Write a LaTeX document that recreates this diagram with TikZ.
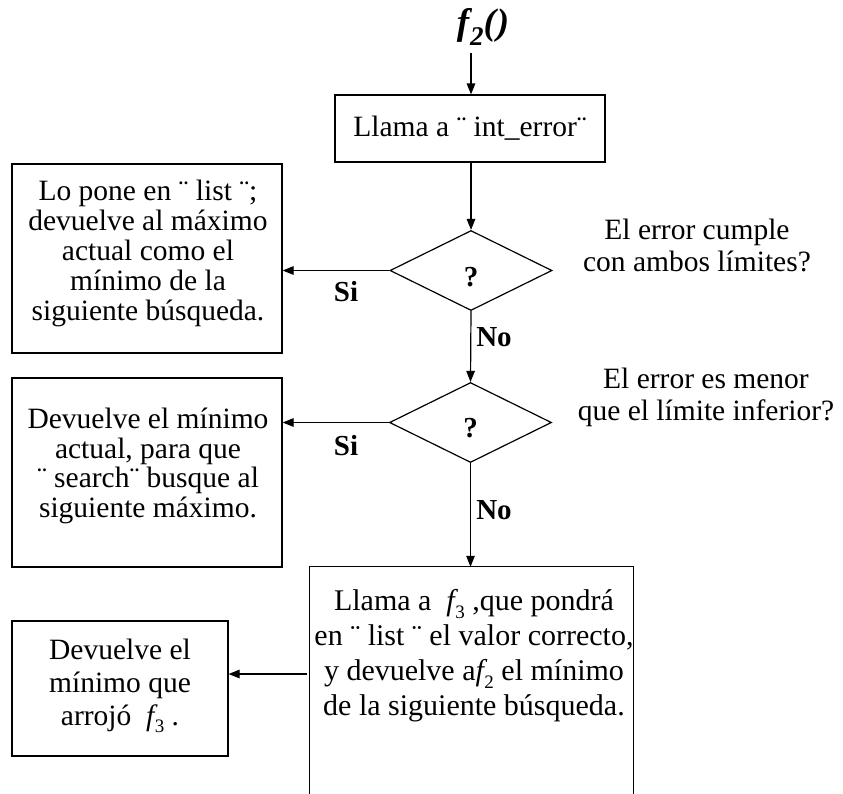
\documentclass[tikz,border=0pt]{standalone}
\usepackage{fontspec}
\setmainfont{Liberation Serif}
\usetikzlibrary{arrows.meta,shapes.geometric}

% italic function name with an upright, lowered index
\newcommand{\fidx}[1]{{\itshape f}\kern0.5pt\smash{\raisebox{-0.26em}{\fontsize{19}{19}\selectfont #1}}}

\tikzset{
  line/.style={line width=1.2pt},
  arr/.style={line, -{Triangle[length=11pt,width=8.5pt]}},
  boxshape/.style={draw, line width=1.2pt, inner sep=0pt},
  txt/.style={align=center, inner sep=0pt, font=\fontsize{29.5}{29.5}\selectfont},
  lbl/.style={inner sep=0pt, font=\fontsize{29}{29}\selectfont\bfseries},
  decision/.style={diamond, draw, line width=1.2pt, inner sep=0pt,
    minimum width=162pt, minimum height=80pt, shape aspect=2.02}
}

\begin{document}
\begin{tikzpicture}[x=1pt,y=-1pt]
\path[use as bounding box] (0,0) rectangle (843,793);

% title
\node[inner sep=0pt, font=\fontsize{37}{37}\selectfont] (title) at (483,27)
  {\textbf{\textit{f\kern1pt\raisebox{-0.3em}{\fontsize{27}{27}\selectfont 2}(\kern1pt)}}};
\coordinate (start) at (471,53);

% process boxes
\node[boxshape, minimum width=270pt, minimum height=67pt] (b1) at (470,128.5) {};
\node[txt] (t1) at (470,128) {Llama a ¨ int\_error¨};

\node[boxshape, minimum width=270pt, minimum height=189pt] (b2) at (147,258.5) {};
\node[txt, font=\fontsize{29.5}{30}\selectfont] (t2) at (148,253) {Lo pone en ¨ list ¨;\\devuelve al máximo\\actual como el\\mínimo de la\\siguiente búsqueda.};

\node[boxshape, minimum width=270pt, minimum height=189pt] (b3) at (147,472.5) {};
\node[txt, font=\fontsize{29.5}{29.5}\selectfont] (t3) at (148,466) {Devuelve el mínimo\\actual, para que\\¨ search¨ busque al\\siguiente máximo.};

% tall box running off the bottom edge: drawn without its base
\node[inner sep=0pt, minimum width=323pt, minimum height=230pt] (b4) at (471.5,682) {};
\draw[line] (b4.south west) |- (b4.north east) -- (b4.south east);
\node[txt, font=\fontsize{30}{35}\selectfont] (t4) at (474,656)
  {Llama a \ \fidx{3} ,que pondrá\\en ¨ list ¨ el valor correcto,\\y devuelve a\fidx{2} el mínimo\\de la siguiente búsqueda.};

\node[boxshape, minimum width=216pt, minimum height=135pt] (b5) at (120,688.5) {};
\node[txt, font=\fontsize{29.5}{33}\selectfont] (t5) at (120,685)
  {Devuelve el\\mínimo que\\arrojó \ \fidx{3} .};

% decisions
\node[decision] (d1) at (471,270.5) {};
\node[lbl] (q1) at (471,277) {?};
\node[decision] (d2) at (470.5,422.5) {};
\node[lbl] (q2) at (470.5,428) {?};

% questions beside the decisions
\node[txt, font=\fontsize{29.5}{32}\selectfont] (c1) at (697,245) {El error cumple\\con ambos límites?};
\node[txt, font=\fontsize{29.5}{32}\selectfont] (c2) at (706,397) {El error es menor\\que el límite inferior?};

% branch labels
\node[lbl] (si1) at (346,292) {Si};
\node[lbl] (no1) at (494,337) {No};
\node[lbl] (si2) at (346,446) {Si};
\node[lbl] (no2) at (494,510) {No};

% connectors
\draw[arr] (start) -- (start |- b1.north);
\draw[arr] (b1.south -| d1.north) -- (d1.north);
\draw[arr] (d1.west) -- (b2.east |- d1.west);
\draw[arr] (d1.south) -- (d2.north);
\draw[arr] (d2.west) -- (b3.east |- d2.west);
\draw[arr] (d2.south) -- (d2.south |- b4.north);
\coordinate (out4) at (307,674);
\draw[arr] (out4) -- (b5.east |- out4);
\end{tikzpicture}
\end{document}
